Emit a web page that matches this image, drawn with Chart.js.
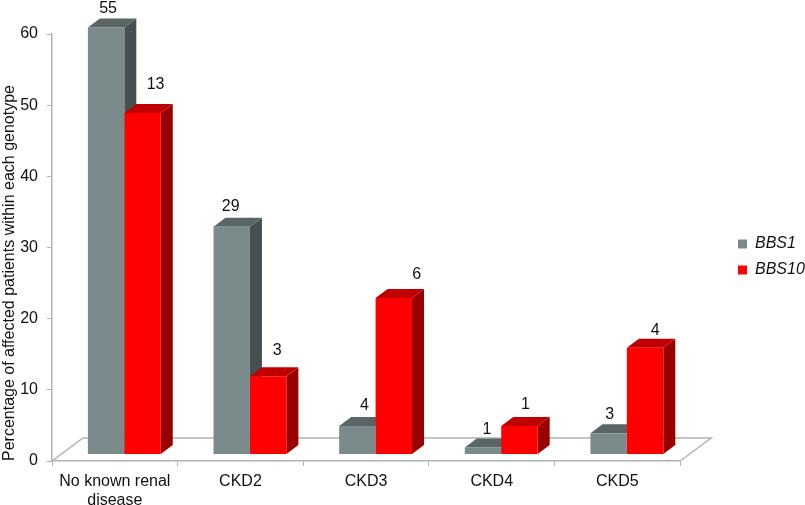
<!DOCTYPE html>
<html>
<head>
<meta charset="utf-8">
<title>Chart</title>
<script src="https://cdn.jsdelivr.net/npm/chart.js@4/dist/chart.umd.js"></script>
<style>
  body { margin: 0; background: #fff; }
</style>
</head>
<body>
<canvas id="mychart" width="805" height="505"></canvas>
<script>
var categories = [["No known renal", "disease"], "CKD2", "CKD3", "CKD4", "CKD5"];
var bbs1 = [60, 32, 4, 1, 3];
var bbs10 = [48, 11, 22, 4, 15];
// numbers written over the bars (patient counts)
var bbs1Counts = [55, 29, 4, 1, 3];
var bbs10Counts = [13, 3, 6, 1, 4];

// the counts were placed by hand in the original, so each has its own nudge
var bbs1Nudge = [[2, -19], [-1, -20], [7, -20], [4, -18], [1, -19]];
var bbs10Nudge = [[13, -28], [9, -26], [23, -23], [6, -21], [10, -17]];

var abu = '#7b8a8a';
var abuAtas = '#5a6666';
var abuSisi = '#475050';
var merah = '#ff0000';
var merahAtas = '#c00000';
var merahSisi = '#990000';
var garis = '#adb3b3';
var teks = '#111111';
var fontName = '"Liberation Sans", Arial, sans-serif';

var faces = [[abuAtas, abuSisi], [merahAtas, merahSisi]];
var counts = [bbs1Counts, bbs10Counts];
var nudges = [bbs1Nudge, bbs10Nudge];

// bars stand in the middle of the floor, and have a small depth of their own
var shiftX = 9.5, shiftY = 6.5;
var depthX = 12, depthY = 9;
var floorX = 31, floorY = 23;

function poly(ctx, pts, color) {
  ctx.fillStyle = color;
  ctx.beginPath();
  ctx.moveTo(pts[0][0], pts[0][1]);
  for (var i = 1; i < pts.length; i++) ctx.lineTo(pts[i][0], pts[i][1]);
  ctx.closePath();
  ctx.fill();
}

var fake3d = {
  id: 'fake3d',
  beforeDraw: function (chart) {
    // legend sits away from the plot, further right than the layout puts it
    chart.legend.left = 728;
    chart.legend.right = 805;
    chart.legend.top = 113;
    chart.legend.bottom = 401;
  },
  beforeDatasetsDraw: function (chart) {
    var ctx = chart.ctx;
    var a = chart.chartArea;
    // floor
    ctx.save();
    ctx.strokeStyle = garis;
    ctx.lineWidth = 1.5;
    ctx.beginPath();
    ctx.moveTo(a.left, a.bottom);
    ctx.lineTo(a.left + floorX, a.bottom - floorY);
    ctx.lineTo(a.right + floorX, a.bottom - floorY);
    ctx.lineTo(a.right, a.bottom);
    ctx.stroke();
    // top and side faces, first series first so the second one covers it
    ctx.translate(shiftX, -shiftY);
    chart.data.datasets.forEach(function (ds, d) {
      chart.getDatasetMeta(d).data.forEach(function (el) {
        var r = el.x + el.width / 2;
        var l = el.x - el.width / 2;
        poly(ctx, [[r, el.y], [r + depthX, el.y - depthY], [r + depthX, el.base - depthY], [r, el.base]], faces[d][1]);
        poly(ctx, [[l, el.y], [l + depthX, el.y - depthY], [r + depthX, el.y - depthY], [r, el.y]], faces[d][0]);
      });
    });
    ctx.restore();
  },
  beforeDatasetDraw: function (chart) {
    chart.ctx.save();
    chart.ctx.translate(shiftX, -shiftY);
  },
  afterDatasetDraw: function (chart) {
    chart.ctx.restore();
  },
  afterDatasetsDraw: function (chart) {
    var ctx = chart.ctx;
    ctx.save();
    ctx.fillStyle = teks;
    ctx.font = '16px ' + fontName;
    ctx.textAlign = 'center';
    ctx.textBaseline = 'middle';
    chart.data.datasets.forEach(function (ds, d) {
      chart.getDatasetMeta(d).data.forEach(function (el, i) {
        ctx.fillText(counts[d][i], el.x + shiftX + nudges[d][i][0], el.y - shiftY + nudges[d][i][1]);
      });
    });
    ctx.restore();
  }
};

var ctx = document.getElementById("mychart").getContext('2d');
var myChart = new Chart(ctx, {
  type: 'bar',
  plugins: [fake3d],
  data: {
    labels: categories,
    datasets: [{
      label: 'BBS1',
      data: bbs1,
      backgroundColor: abu,
      clip: false
    }, {
      label: 'BBS10',
      data: bbs10,
      backgroundColor: merah,
      clip: false
    }]
  },
  options: {
    responsive: false,
    animation: false,
    layout: { padding: { top: 34, right: 38, left: 0, bottom: 0 } },
    categoryPercentage: 0.58,
    barPercentage: 1,
    plugins: {
      tooltip: { enabled: false },
      legend: {
        position: 'right',
        labels: {
          boxWidth: 9,
          boxHeight: 9,
          padding: 10,
          color: teks,
          font: { family: fontName, size: 16, style: 'italic' }
        }
      }
    },
    scales: {
      x: {
        afterFit: function (scale) { scale.height = 44; },
        border: { color: garis, width: 1.5 },
        grid: { drawOnChartArea: false, color: garis, tickLength: 5 },
        ticks: {
          color: teks,
          maxRotation: 0,
          padding: 6,
          font: { family: fontName, size: 16, lineHeight: 1.2 }
        }
      },
      y: {
        min: 0,
        max: 60,
        afterFit: function (scale) { scale.width = 52; },
        border: { color: garis, width: 1.5 },
        grid: { drawOnChartArea: false, color: garis, tickLength: 5 },
        title: {
          display: true,
          text: 'Percentage of affected patients within each genotype',
          color: teks,
          align: 'start',
          padding: 0,
          font: { family: fontName, size: 16 }
        },
        ticks: {
          stepSize: 10,
          color: teks,
          padding: 9,
          font: { family: fontName, size: 16 }
        }
      }
    }
  }
});
</script>
</body>
</html>
